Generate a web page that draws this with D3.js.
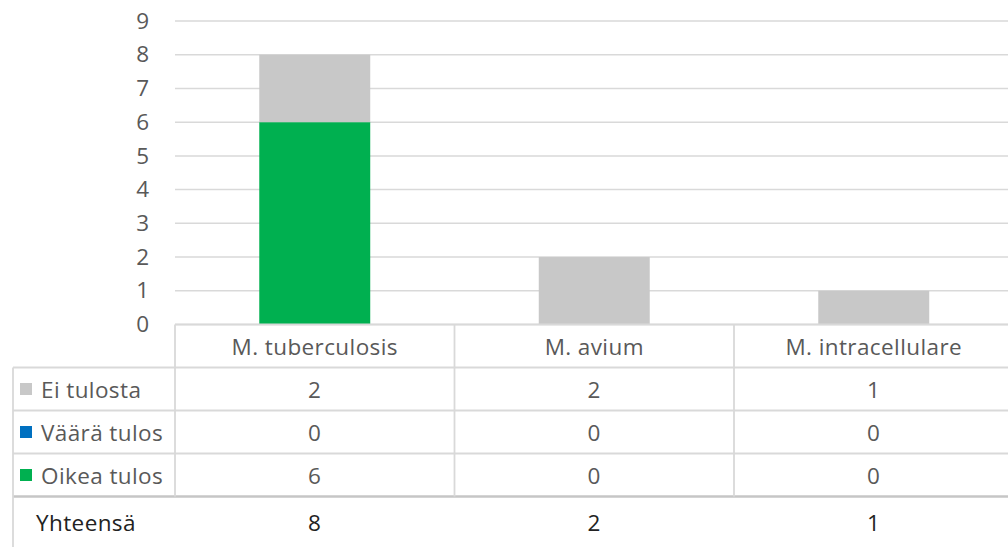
<!DOCTYPE html>
<html><head><meta charset="utf-8">
<script src="https://cdn.jsdelivr.net/npm/d3@7/dist/d3.min.js"></script>
<style>html,body{margin:0;padding:0;background:#fff;}svg{display:block;}</style>
</head><body>
<svg id="c" width="1008" height="547"></svg>
<script>
const categories = ["M. tuberculosis", "M. avium", "M. intracellulare"];
const seriesNames = ["Oikea tulos", "Väärä tulos", "Ei tulosta"]; // stack order bottom->top
const oikeaTulos = [6, 0, 0];
const vaaraTulos = [0, 0, 0];
const eiTulosta = [2, 2, 1];
const yTicks = [0, 1, 2, 3, 4, 5, 6, 7, 8, 9];
const totalLabel = "Yhteensä";
const colors = {"Oikea tulos": "#00b050", "Väärä tulos": "#0070c0", "Ei tulosta": "#c8c8c8"};

const seriesValues = {"Oikea tulos": oikeaTulos, "Väärä tulos": vaaraTulos, "Ei tulosta": eiTulosta};
const tableRows = ["Ei tulosta", "Väärä tulos", "Oikea tulos"];
const totals = categories.map((c, i) => seriesNames.reduce((s, n) => s + seriesValues[n][i], 0));

const svg = d3.select("#c");
const font = "'Open Sans', 'Noto Sans', sans-serif";
const fs = "22.5px", ls = "0.4px";
const txtColor = "#595959";
const lineColor = "#d9d9d9";

const plotLeft = 175, plotRight = 1013.5, plotTop = 21, plotBottom = 324.5;
const legendLeft = 13;
const y = d3.scaleLinear().domain([0, 9]).range([plotBottom, plotTop]);
const xCol = d3.scaleBand().domain(categories).range([plotLeft, plotRight]).padding(0);
const xBar = d3.scaleBand().domain(categories).range([plotLeft, plotRight]).paddingInner(0.603).paddingOuter(0.3015);

function styleText(sel, color) {
  return sel.attr("fill", color || txtColor).style("font-family", font).style("font-size", fs).style("letter-spacing", ls);
}

// gridlines
svg.append("g").selectAll("line").data(yTicks).join("line")
  .attr("x1", plotLeft).attr("x2", 1008)
  .attr("y1", d => y(d)).attr("y2", d => y(d))
  .attr("stroke", lineColor).attr("stroke-width", 1.5);

// y axis labels
const yAxis = d3.axisLeft(y).tickValues(yTicks).tickSize(0).tickPadding(0);
const ya = svg.append("g").attr("transform", `translate(149,0)`).call(yAxis);
ya.select(".domain").remove();
ya.selectAll("text").attr("fill", txtColor).style("font-family", font).style("font-size", fs);

// stacked bars
const stackData = categories.map((c, i) => {
  const o = {cat: c};
  seriesNames.forEach(n => o[n] = seriesValues[n][i]);
  return o;
});
const stacked = d3.stack().keys(seriesNames)(stackData);
svg.append("g").selectAll("g").data(stacked).join("g")
  .attr("fill", d => colors[d.key])
  .selectAll("rect").data(d => d).join("rect")
  .attr("x", d => xBar(d.data.cat))
  .attr("width", xBar.bandwidth())
  .attr("y", d => y(d[1]))
  .attr("height", d => y(d[0]) - y(d[1]));

// data table
const headerTop = plotBottom, rowH = 43;
const rowY = i => headerTop + rowH * (i + 1); // top of table row i
const tb = svg.append("g");
tb.append("line").attr("x1", plotLeft).attr("x2", 1008).attr("y1", headerTop).attr("y2", headerTop)
  .attr("stroke", lineColor).attr("stroke-width", 1.8);
tableRows.forEach((r, i) => {
  tb.append("line").attr("x1", legendLeft).attr("x2", 1008).attr("y1", rowY(i)).attr("y2", rowY(i))
    .attr("stroke", lineColor).attr("stroke-width", 1.8);
});
const sepY = rowY(tableRows.length);
tb.append("line").attr("x1", legendLeft).attr("x2", 1008).attr("y1", sepY).attr("y2", sepY)
  .attr("stroke", "#c6c6c6").attr("stroke-width", 2.6);
const colEdges = [plotLeft].concat(categories.map(c => xCol(c) + xCol.bandwidth()));
colEdges.forEach(x => {
  tb.append("line").attr("x1", x).attr("x2", x).attr("y1", headerTop).attr("y2", sepY)
    .attr("stroke", lineColor).attr("stroke-width", 1.8);
});
tb.append("line").attr("x1", legendLeft).attr("x2", legendLeft).attr("y1", rowY(0)).attr("y2", 547)
  .attr("stroke", lineColor).attr("stroke-width", 1.8);

// header text
styleText(tb.selectAll("text.hdr").data(categories).join("text").attr("class", "hdr")
  .attr("x", d => xCol(d) + xCol.bandwidth() / 2).attr("y", headerTop + rowH / 2)
  .attr("text-anchor", "middle").attr("dominant-baseline", "central")).text(d => d);

// series rows
tableRows.forEach((r, i) => {
  const cy = rowY(i) + rowH / 2;
  tb.append("rect").attr("x", 20).attr("y", cy - 6).attr("width", 12).attr("height", 12).attr("fill", colors[r]);
  styleText(tb.append("text").attr("x", 41).attr("y", cy).attr("dominant-baseline", "central")).text(r);
  styleText(tb.selectAll(null).data(categories).join("text")
    .attr("x", d => xCol(d) + xCol.bandwidth() / 2).attr("y", cy)
    .attr("text-anchor", "middle").attr("dominant-baseline", "central"))
    .text((d, j) => seriesValues[r][j]);
});

// totals row
const ty = sepY + 26;
styleText(tb.append("text").attr("x", 36).attr("y", ty).attr("dominant-baseline", "central"), "#222").text(totalLabel);
styleText(tb.selectAll("text.tot").data(categories).join("text").attr("class", "tot")
  .attr("x", d => xCol(d) + xCol.bandwidth() / 2).attr("y", ty)
  .attr("text-anchor", "middle").attr("dominant-baseline", "central"), "#222")
  .text((d, i) => totals[i]);
</script>
</body></html>
